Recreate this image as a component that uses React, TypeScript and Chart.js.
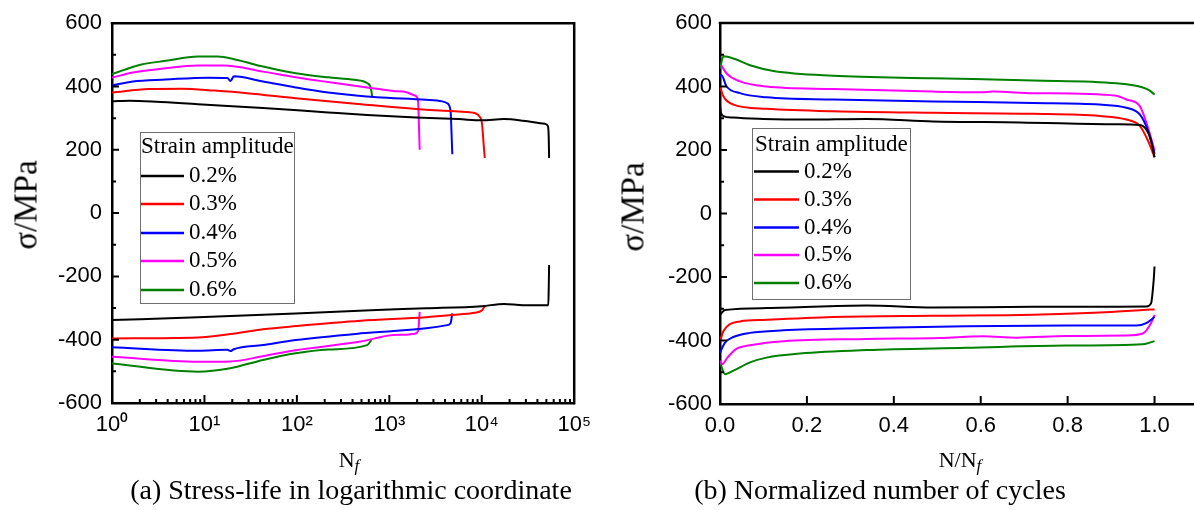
import React, { useEffect, useRef } from "react";
import { Chart, registerables } from "chart.js";

Chart.register(...registerables);

// ---------------- data ----------------
const legendTitle = "Strain amplitude";
const amplitudeLabels = ["0.2%", "0.3%", "0.4%", "0.5%", "0.6%"];
const seriesColors = ["#000000", "#ff0000", "#0000ff", "#ff00ff", "#008000"];

const stressTicks = [-600, -400, -200, 0, 200, 400, 600];
const stressMinorTicks = [-500, -300, -100, 100, 300, 500];

const logTicks = [1, 10, 100, 1000, 10000, 100000];
const logTickLabels = ["10\u2070", "10\u00b9", "10\u00b2", "10\u00b3", "10\u2074", "10\u2075"];
const logMinorFactors = [2, 3, 4, 5, 6, 7, 8, 9];

const normTicks = [0, 0.2, 0.4, 0.6, 0.8, 1.0];
const normTickLabels = ["0.0", "0.2", "0.4", "0.6", "0.8", "1.0"];

// (a) stress vs cycles, logarithmic N
const logUpper02 = [[1, 353], [1.55, 355], [3, 352], [8.5, 344], [43, 332], [218, 318], [575, 310], [1950, 302], [5600, 297], [10000, 293], [17400, 297], [28000, 292], [48000, 282], [52000, 275], [53000, 240], [53500, 174]];
const logUpper03 = [[1, 381], [2.5, 392], [5.7, 393], [12.8, 387], [29, 379], [97, 363], [491, 344], [1950, 329], [5600, 321], [8400, 316], [9400, 306], [10070, 282], [10400, 230], [10770, 174]];
const logUpper04 = [[1, 403], [1.68, 416], [3.8, 422], [10.9, 428], [17.7, 427], [19.1, 417], [20.8, 432], [43, 416], [97, 397], [218, 381], [733, 366], [2500, 358], [3730, 353], [4230, 347], [4600, 322], [4700, 260], [4800, 186]];
const logUpper05 = [[1, 428], [1.68, 444], [3.8, 458], [8.5, 466], [16.3, 466], [43, 447], [97, 429], [218, 414], [575, 397], [1100, 386], [1530, 382], [1870, 372], [2040, 358], [2090, 280], [2130, 200]];
const logUpper06 = [[1, 439], [1.98, 468], [3.8, 481], [8.5, 495], [13.8, 495], [22.5, 484], [43, 463], [97, 442], [218, 429], [420, 421], [575, 411], [630, 396], [653, 368]];

const logLower02 = [[1, -338], [8.5, -329], [97, -317], [733, -306], [2500, -301], [10000, -294], [17400, -287], [28000, -291], [52500, -291], [53000, -240], [53500, -164]];
const logLower03 = [[1, -396], [8.5, -393], [19, -382], [43, -367], [97, -357], [491, -340], [2500, -329], [5600, -320], [8400, -315], [10000, -308], [10770, -294]];
const logLower04 = [[1, -424], [8.5, -435], [17.7, -432], [19.1, -436], [20.8, -430], [43, -417], [97, -401], [491, -380], [2500, -364], [4230, -354], [4600, -348], [4800, -317]];
const logLower05 = [[1, -454], [8.5, -470], [19, -469], [43, -452], [97, -433], [491, -406], [1100, -385], [1530, -384], [1870, -381], [2050, -372], [2130, -312]];
const logLower06 = [[1, -475], [8.5, -501], [19, -490], [43, -464], [97, -443], [218, -431], [575, -417], [640, -401]];

// (b) stress vs normalized cycles N/Nf
const normUpper02 = [[0, 340], [0.002, 318], [0.008, 307], [0.03, 302], [0.1, 298], [0.2, 296], [0.337, 298], [0.49, 290], [0.69, 287], [0.912, 281], [0.966, 279], [0.981, 265], [0.992, 230], [1.0, 177]];
const normUpper03 = [[0, 400], [0.0077, 369], [0.0307, 343], [0.107, 330], [0.26, 322], [0.49, 317], [0.72, 314], [0.874, 307], [0.935, 296], [0.966, 276], [0.985, 229], [1.0, 177]];
const normUpper04 = [[0, 431], [0.003, 436], [0.0153, 400], [0.046, 379], [0.107, 366], [0.26, 359], [0.49, 353], [0.72, 348], [0.874, 343], [0.935, 333], [0.966, 312], [0.985, 260], [1.0, 188]];
const normUpper05 = [[0.003, 467], [0.0153, 441], [0.046, 416], [0.107, 400], [0.26, 392], [0.49, 384], [0.6, 382], [0.628, 384], [0.72, 379], [0.912, 371], [0.935, 359], [0.966, 338], [0.985, 270], [1.0, 198]];
const normUpper06 = [[0, 457], [0.008, 495], [0.031, 488], [0.069, 467], [0.123, 449], [0.26, 434], [0.49, 426], [0.72, 419], [0.912, 410], [0.973, 397], [0.989, 387], [1.0, 374]];

const normLower02 = [[0, -319], [0.0115, -304], [0.107, -298], [0.337, -290], [0.49, -296], [0.72, -294], [0.981, -293], [0.992, -283], [0.998, -210], [1.0, -167]];
const normLower03 = [[0, -402], [0.0077, -371], [0.021, -350], [0.046, -340], [0.107, -335], [0.26, -326], [0.49, -322], [0.72, -319], [0.874, -312], [0.973, -304], [1.0, -302]];
const normLower04 = [[0, -438], [0.0115, -407], [0.0307, -389], [0.069, -376], [0.146, -368], [0.337, -361], [0.567, -355], [0.797, -353], [0.958, -353], [0.981, -345], [1.0, -326]];
const normLower05 = [[0, -464], [0.005, -475], [0.017, -454], [0.036, -428], [0.069, -415], [0.146, -402], [0.337, -395], [0.506, -392], [0.605, -387], [0.682, -391], [0.797, -386], [0.935, -384], [0.973, -378], [0.992, -345], [1.0, -319]];
const normLower06 = [[0, -469], [0.012, -506], [0.031, -495], [0.069, -469], [0.107, -454], [0.184, -441], [0.337, -430], [0.567, -423], [0.797, -416], [0.973, -412], [1.0, -402]];

const logUpper = [logUpper02, logUpper03, logUpper04, logUpper05, logUpper06];
const logLower = [logLower02, logLower03, logLower04, logLower05, logLower06];
const normUpper = [normUpper02, normUpper03, normUpper04, normUpper05, normUpper06];
const normLower = [normLower02, normLower03, normLower04, normLower05, normLower06];

// ---------------- helpers ----------------
const SANS = "'Liberation Sans', Arial, sans-serif";
const SERIF = "'Liberation Serif', 'Times New Roman', serif";

function buildDatasets(upper: number[][][], lower: number[][][]) {
  const ds: any[] = [];
  [upper, lower].forEach((group) => {
    group.forEach((pts, i) => {
      ds.push({
        label: amplitudeLabels[i],
        data: pts.map(([x, y]) => ({ x, y })),
        borderColor: seriesColors[i],
        backgroundColor: seriesColors[i],
        borderWidth: 2,
        pointRadius: 0,
        fill: false,
        cubicInterpolationMode: "monotone",
      });
    });
  });
  return ds;
}

function framePlugin(cfg: { drawRight: boolean; xMajor: number[]; xMinor: number[] }) {
  return {
    id: "frameTicks",
    afterDraw(chart: any) {
      const { ctx, chartArea: a, scales } = chart;
      const xs = scales.x;
      const ys = scales.y;
      ctx.save();
      ctx.strokeStyle = "#000";
      ctx.lineWidth = 2.5;
      ctx.lineCap = "butt";
      ctx.beginPath();
      ctx.moveTo(a.left - 1.25, a.top);
      ctx.lineTo(a.right, a.top);
      if (cfg.drawRight) ctx.lineTo(a.right, a.bottom + 1.25);
      ctx.stroke();
      ctx.lineWidth = 2;
      ctx.beginPath();
      stressTicks.forEach((v) => {
        if (v <= -600 || v >= 600) return;
        const y = ys.getPixelForValue(v);
        ctx.moveTo(a.left, y);
        ctx.lineTo(a.left + 7, y);
      });
      stressMinorTicks.forEach((v) => {
        const y = ys.getPixelForValue(v);
        ctx.moveTo(a.left, y);
        ctx.lineTo(a.left + 4, y);
      });
      cfg.xMajor.forEach((v) => {
        const x = xs.getPixelForValue(v);
        if (x <= a.left + 1 || x >= a.right - 1) return;
        ctx.moveTo(x, a.bottom);
        ctx.lineTo(x, a.bottom - 8);
      });
      cfg.xMinor.forEach((v) => {
        const x = xs.getPixelForValue(v);
        if (x <= a.left + 1 || x >= a.right - 1) return;
        ctx.moveTo(x, a.bottom);
        ctx.lineTo(x, a.bottom - 4);
      });
      ctx.stroke();
      ctx.restore();
    },
  };
}

function legendPlugin(cfg: { box: [number, number, number, number]; titleX: number; titleY: number; rowY: number[]; lineX0: number; lineX1: number; textX: number }) {
  return {
    id: "ampLegend",
    afterDraw(chart: any) {
      const { ctx } = chart;
      const [x0, y0, x1, y1] = cfg.box;
      ctx.save();
      ctx.fillStyle = "#fff";
      ctx.fillRect(x0, y0, x1 - x0, y1 - y0);
      ctx.strokeStyle = "#707070";
      ctx.lineWidth = 1;
      ctx.strokeRect(x0 + 0.5, y0 + 0.5, x1 - x0, y1 - y0);
      ctx.fillStyle = "#000";
      ctx.font = `23px ${SERIF}`;
      ctx.textBaseline = "middle";
      ctx.textAlign = "left";
      ctx.fillText(legendTitle, cfg.titleX, cfg.titleY);
      amplitudeLabels.forEach((lab, i) => {
        const y = cfg.rowY[i];
        ctx.strokeStyle = seriesColors[i];
        ctx.lineWidth = 2.5;
        ctx.beginPath();
        ctx.moveTo(cfg.lineX0, y);
        ctx.lineTo(cfg.lineX1, y);
        ctx.stroke();
        ctx.fillStyle = "#000";
        ctx.fillText(lab, cfg.textX, y);
      });
      ctx.restore();
    },
  };
}

const tickFont = { family: SANS, size: 22 };

function yScale(width: number, pad: number) {
  return {
    type: "linear",
    min: -600,
    max: 600,
    afterBuildTicks: (s: any) => {
      s.ticks = stressTicks.map((v) => ({ value: v }));
    },
    afterFit: (s: any) => {
      s.width = width;
    },
    ticks: { color: "#000", font: tickFont, padding: pad, callback: (v: any) => String(v) },
    grid: { display: false, drawTicks: false },
    border: { display: true, color: "#000", width: 2.5 },
  };
}

// ---------------- components ----------------
function LogChart() {
  const ref = useRef<HTMLCanvasElement | null>(null);
  useEffect(() => {
    if (!ref.current) return;
    const minor: number[] = [];
    logTicks.slice(0, -1).forEach((d) => logMinorFactors.forEach((k) => minor.push(k * d)));
    const chart = new Chart(ref.current, {
      type: "line",
      data: { datasets: buildDatasets(logUpper, logLower) },
      options: {
        animation: false,
        responsive: false,
        devicePixelRatio: 1,
        layout: { padding: { left: 0, top: 23, right: 15, bottom: 0 }, autoPadding: false },
        plugins: { legend: { display: false }, tooltip: { enabled: false } },
        scales: {
          x: {
            type: "logarithmic",
            min: 1,
            max: 100000,
            afterBuildTicks: (s: any) => {
              s.ticks = logTicks.map((v) => ({ value: v }));
            },
            afterFit: (s: any) => {
              s.height = 107;
            },
            ticks: {
              color: "#000",
              font: tickFont,
              padding: 9,
              maxRotation: 0,
              autoSkip: false,
              callback: (_v: any, i: number) => logTickLabels[i],
            },
            grid: { display: false, drawTicks: false },
            border: { display: true, color: "#000", width: 2.5 },
          },
          y: yScale(112, 10),
        },
      } as any,
      plugins: [
        framePlugin({ drawRight: true, xMajor: logTicks, xMinor: minor }),
        legendPlugin({
          box: [140, 132, 294, 303],
          titleX: 141,
          titleY: 147,
          rowY: [176, 204, 233, 261, 290],
          lineX0: 141,
          lineX1: 184,
          textX: 189,
        }),
      ],
    } as any);
    return () => chart.destroy();
  }, []);
  return <canvas ref={ref} width={600} height={510} style={{ position: "absolute", left: 0, top: 0, width: 600, height: 510 }} />;
}

function NormChart() {
  const ref = useRef<HTMLCanvasElement | null>(null);
  useEffect(() => {
    if (!ref.current) return;
    const chart = new Chart(ref.current, {
      type: "line",
      data: { datasets: buildDatasets(normUpper, normLower) },
      options: {
        animation: false,
        responsive: false,
        devicePixelRatio: 1,
        layout: { padding: { left: 0, top: 23, right: 12, bottom: 0 }, autoPadding: false },
        plugins: { legend: { display: false }, tooltip: { enabled: false } },
        scales: {
          x: {
            type: "linear",
            min: 0,
            max: 1.1,
            afterBuildTicks: (s: any) => {
              s.ticks = normTicks.map((v) => ({ value: v }));
            },
            afterFit: (s: any) => {
              s.height = 106;
            },
            ticks: {
              color: "#000",
              font: tickFont,
              padding: 9,
              maxRotation: 0,
              autoSkip: false,
              callback: (_v: any, i: number) => normTickLabels[i],
            },
            grid: { display: false, drawTicks: false },
            border: { display: true, color: "#000", width: 2.5 },
          },
          y: yScale(120, 8),
        },
      } as any,
      plugins: [
        framePlugin({ drawRight: false, xMajor: normTicks, xMinor: [] }),
        legendPlugin({
          box: [152, 128, 310, 299],
          titleX: 155,
          titleY: 145,
          rowY: [171.5, 199.5, 227.5, 255, 283],
          lineX0: 154,
          lineX1: 199,
          textX: 204,
        }),
      ],
    } as any);
    return () => chart.destroy();
  }, []);
  return <canvas ref={ref} width={610} height={510} style={{ position: "absolute", left: 600, top: 0, width: 610, height: 510 }} />;
}

function Label(props: { x: number; y: number; rotate?: boolean; size: number; family: string; children: any }) {
  return (
    <div
      style={{
        position: "absolute",
        left: props.x,
        top: props.y,
        transform: `translate(-50%, -50%)${props.rotate ? " rotate(-90deg)" : ""}`,
        whiteSpace: "nowrap",
        fontFamily: props.family,
        fontSize: props.size,
        lineHeight: 1,
        color: "#000",
      }}
    >
      {props.children}
    </div>
  );
}

const subF = { fontStyle: "italic", fontSize: 17, verticalAlign: "-4px" } as React.CSSProperties;

export default function App() {
  return (
    <div style={{ position: "absolute", left: 0, top: 0, width: 1194, height: 510, overflow: "hidden", background: "#fff" }}>
      <LogChart />
      <NormChart />
      <Label x={26} y={205} rotate size={33} family={SERIF}>σ/MPa</Label>
      <Label x={633} y={207} rotate size={33} family={SERIF}>σ/MPa</Label>
      <Label x={349} y={461} size={22} family={SERIF}>
        N<span style={subF}>f</span>
      </Label>
      <Label x={960} y={461} size={22} family={SERIF}>
        N/N<span style={subF}>f</span>
      </Label>
      <Label x={351} y={490} size={28} family={SERIF}>(a) Stress-life in logarithmic coordinate</Label>
      <Label x={880} y={490} size={28} family={SERIF}>(b) Normalized number of cycles</Label>
    </div>
  );
}
